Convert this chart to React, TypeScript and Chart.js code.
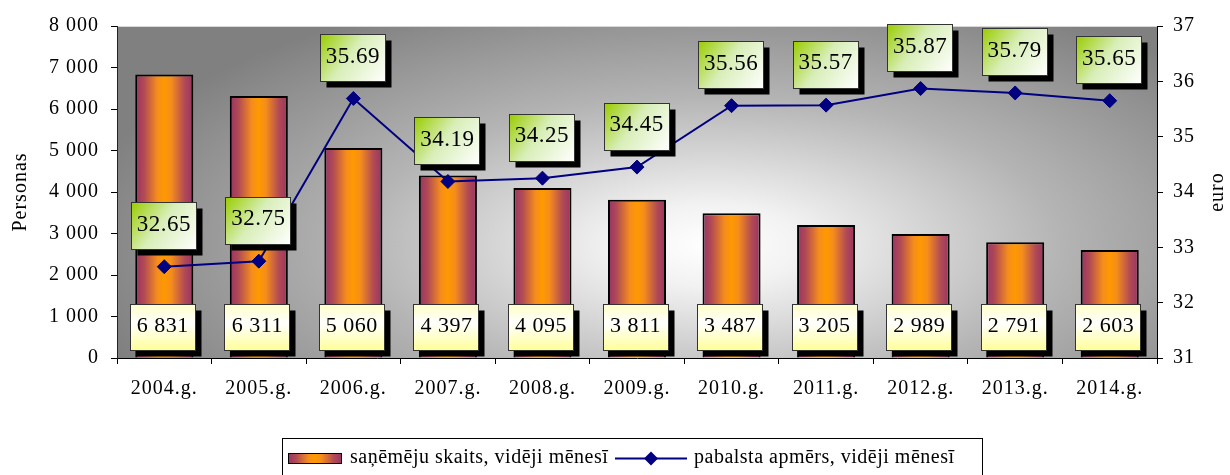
import { useEffect, useRef } from 'react';
import { Chart, registerables } from 'chart.js';

Chart.register(...registerables);

const categories = ['2004.g.', '2005.g.', '2006.g.', '2007.g.', '2008.g.', '2009.g.', '2010.g.', '2011.g.', '2012.g.', '2013.g.', '2014.g.'];
const recipients = [6831, 6311, 5060, 4397, 4095, 3811, 3487, 3205, 2989, 2791, 2603];
const benefit = [32.65, 32.75, 35.69, 34.19, 34.25, 34.45, 35.56, 35.57, 35.87, 35.79, 35.65];
const leftAxis = { min: 0, max: 8000, step: 1000 };
const rightAxis = { min: 31, max: 37, step: 1 };
const barLabel = 'saņēmēju skaits, vidēji mēnesī';
const lineLabel = 'pabalsta apmērs, vidēji mēnesī';
const leftTitle = 'Personas';
const rightTitle = 'euro';

const FONT = '"Liberation Serif", "Times New Roman", serif';
const BAR_PCT = 0.614;

const fmt = (v: number) => String(v).replace(/\B(?=(\d{3})+(?!\d))/g, ' ');

function barGradient(ctx: CanvasRenderingContext2D, x0: number, x1: number) {
  const g = ctx.createLinearGradient(x0, 0, x1, 0);
  g.addColorStop(0, '#993366');
  g.addColorStop(0.15, '#b04a55');
  g.addColorStop(0.38, '#f58d1c');
  g.addColorStop(0.5, '#ff9900');
  g.addColorStop(0.62, '#f58d1c');
  g.addColorStop(0.85, '#b04a55');
  g.addColorStop(1, '#993366');
  return g;
}

function drawBox(ctx: CanvasRenderingContext2D, cx: number, cy: number, w: number, h: number, kind: 'yellow' | 'green', text: string) {
  const x = Math.round(cx - w / 2) + 0.5;
  const y = Math.round(cy - h / 2) + 0.5;
  ctx.save();
  ctx.fillStyle = '#000';
  ctx.fillRect(x + 6, y + 6, w, h);
  let g: CanvasGradient;
  if (kind === 'yellow') {
    g = ctx.createLinearGradient(0, y, 0, y + h);
    g.addColorStop(0, '#ffffc8');
    g.addColorStop(0.4, '#ffffff');
    g.addColorStop(1, '#ffff99');
  } else {
    g = ctx.createLinearGradient(x, y, x + w, y + h);
    g.addColorStop(0, '#99cc00');
    g.addColorStop(0.45, '#d8eeb8');
    g.addColorStop(1, '#ffffff');
  }
  ctx.fillStyle = g;
  ctx.fillRect(x, y, w, h);
  ctx.strokeStyle = '#333';
  ctx.lineWidth = 1;
  ctx.strokeRect(x, y, w, h);
  (ctx as any).letterSpacing = '0.5px';
  ctx.fillStyle = '#000';
  ctx.font = (kind === 'yellow' ? '22px ' : '23px ') + FONT;
  ctx.textAlign = 'center';
  ctx.textBaseline = 'middle';
  ctx.fillText(text, cx + 0.5, cy - 1);
  ctx.restore();
}

const bgPlugin = {
  id: 'bg',
  beforeDraw(chart: any) {
    const { ctx, chartArea: a } = chart;
    (ctx as any).letterSpacing = '1px';
    ctx.save();
    ctx.beginPath();
    ctx.rect(a.left, a.top, a.right - a.left, a.bottom - a.top);
    ctx.clip();
    const cx = a.left + (a.right - a.left) * 0.57;
    const cy = a.top + (a.bottom - a.top) * 0.66;
    const rx = 640;
    const ry = 270;
    ctx.translate(cx, cy);
    ctx.scale(1, ry / rx);
    const g = ctx.createRadialGradient(0, 0, 0, 0, 0, rx);
    g.addColorStop(0, '#ffffff');
    g.addColorStop(0.15, '#f2f2f2');
    g.addColorStop(0.55, '#b4b4b4');
    g.addColorStop(1, '#808080');
    ctx.fillStyle = g;
    ctx.fillRect(-3000, -3000, 6000, 6000);
    ctx.restore();
    ctx.save();
    ctx.strokeStyle = '#d8d8d8';
    ctx.lineWidth = 1;
    ctx.beginPath();
    ctx.moveTo(a.left, a.top + 0.5);
    ctx.lineTo(a.right, a.top + 0.5);
    ctx.stroke();
    ctx.restore();
  },
};

const labelsPlugin = {
  id: 'boxLabels',
  afterDatasetsDraw(chart: any) {
    const ctx = chart.ctx;
    const barMeta = chart.getDatasetMeta(0);
    const lineMeta = chart.getDatasetMeta(1);
    const base = chart.scales.y.getPixelForValue(0);
    barMeta.data.forEach((el: any, i: number) => {
      drawBox(ctx, el.x - 2, base - 31, 65, 46, 'yellow', fmt(recipients[i]));
    });
    lineMeta.data.forEach((el: any, i: number) => {
      drawBox(ctx, el.x - 1, el.y - 41, 65, 47, 'green', benefit[i].toFixed(2));
    });
  },
};

const decorPlugin = {
  id: 'decor',
  afterDraw(chart: any) {
    const ctx = chart.ctx;
    const a = chart.chartArea;
    const midY = (a.top + a.bottom) / 2;
    ctx.save();
    (ctx as any).letterSpacing = '1px';
    ctx.fillStyle = '#000';
    ctx.font = '20px ' + FONT;
    ctx.textAlign = 'center';
    ctx.textBaseline = 'middle';
    ctx.save();
    ctx.translate(21, midY);
    ctx.rotate(-Math.PI / 2);
    ctx.fillText(leftTitle, 0, 0);
    ctx.restore();
    ctx.save();
    ctx.translate(1218, midY);
    ctx.rotate(-Math.PI / 2);
    ctx.fillText(rightTitle, 0, 0);
    ctx.restore();

    // legend
    (ctx as any).letterSpacing = '0.5px';
    ctx.strokeStyle = '#000';
    ctx.lineWidth = 1;
    ctx.strokeRect(282.5, 438.5, 700, 40);
    ctx.fillStyle = barGradient(ctx, 288, 342);
    ctx.fillRect(288, 453, 54, 11);
    ctx.strokeRect(288.5, 453.5, 53, 10);
    ctx.fillStyle = '#000';
    ctx.textAlign = 'left';
    ctx.textBaseline = 'middle';
    ctx.font = '20px ' + FONT;
    ctx.fillText(barLabel, 350, 458);
    ctx.strokeStyle = '#000080';
    ctx.lineWidth = 2;
    ctx.beginPath();
    ctx.moveTo(615, 458.5);
    ctx.lineTo(687, 458.5);
    ctx.stroke();
    ctx.fillStyle = '#000080';
    ctx.beginPath();
    ctx.moveTo(651 - 7, 458.5);
    ctx.lineTo(651, 451.5);
    ctx.lineTo(651 + 7, 458.5);
    ctx.lineTo(651, 465.5);
    ctx.closePath();
    ctx.fill();
    ctx.fillStyle = '#000';
    ctx.fillText(lineLabel, 694, 458);
    ctx.restore();
  },
};

export default function App() {
  const ref = useRef<HTMLCanvasElement | null>(null);
  useEffect(() => {
    if (!ref.current) return;
    const chart = new Chart(ref.current, {
      type: 'bar',
      data: {
        labels: categories,
        datasets: [
          {
            type: 'bar',
            label: barLabel,
            data: recipients,
            yAxisID: 'y',
            order: 2,
            borderColor: '#000',
            borderWidth: 2,
            barPercentage: BAR_PCT,
            categoryPercentage: 1,
            backgroundColor: (c: any) => {
              const s = c.chart.scales && c.chart.scales.x;
              if (!s || c.dataIndex === undefined) return '#ff9900';
              const x = s.getPixelForValue(c.dataIndex);
              const w = (s.width / categories.length) * BAR_PCT;
              if (!Number.isFinite(x) || !Number.isFinite(w) || w <= 0) return '#ff9900';
              return barGradient(c.chart.ctx, x - w / 2, x + w / 2);
            },
          } as any,
          {
            type: 'line',
            label: lineLabel,
            data: benefit,
            yAxisID: 'y1',
            order: 1,
            borderColor: '#000080',
            backgroundColor: '#000080',
            borderWidth: 2,
            pointStyle: 'rectRot',
            pointRadius: 7,
            pointBorderWidth: 1,
            tension: 0,
          } as any,
        ],
      },
      options: {
        responsive: false,
        animation: false,
        layout: { padding: { top: 26, left: 0, right: 0, bottom: 0 } },
        plugins: {
          legend: { display: false },
          title: { display: false },
          tooltip: { enabled: false },
        },
        scales: {
          x: {
            offset: true,
            grid: { offset: true, drawOnChartArea: false, tickLength: 6, color: '#000' },
            border: { color: '#000', width: 1 },
            ticks: { color: '#000', font: { family: FONT, size: 20 }, padding: 13, maxRotation: 0 },
            afterFit: (s: any) => { s.height = 117; },
          },
          y: {
            position: 'left',
            min: leftAxis.min,
            max: leftAxis.max,
            grid: { drawOnChartArea: false, tickLength: 6, color: '#000' },
            border: { color: '#222', width: 1 },
            ticks: { stepSize: leftAxis.step, color: '#000', font: { family: FONT, size: 20 }, padding: 12, callback: (v: any) => fmt(Number(v)) },
            afterFit: (s: any) => { s.width = 117; },
          },
          y1: {
            position: 'right',
            min: rightAxis.min,
            max: rightAxis.max,
            grid: { drawOnChartArea: false, tickLength: 6, color: '#000' },
            border: { color: '#000', width: 1 },
            ticks: { stepSize: rightAxis.step, color: '#000', font: { family: FONT, size: 20 }, padding: 10 },
            afterFit: (s: any) => { s.width = 73; },
          },
        },
      } as any,
      plugins: [bgPlugin, labelsPlugin, decorPlugin],
    });
    return () => chart.destroy();
  }, []);
  return (
    <div style={{ position: 'absolute', left: 0, top: 0, width: 1230, height: 475, background: '#fff' }}>
      <canvas ref={ref} width={1230} height={475} style={{ display: 'block' }} />
    </div>
  );
}
